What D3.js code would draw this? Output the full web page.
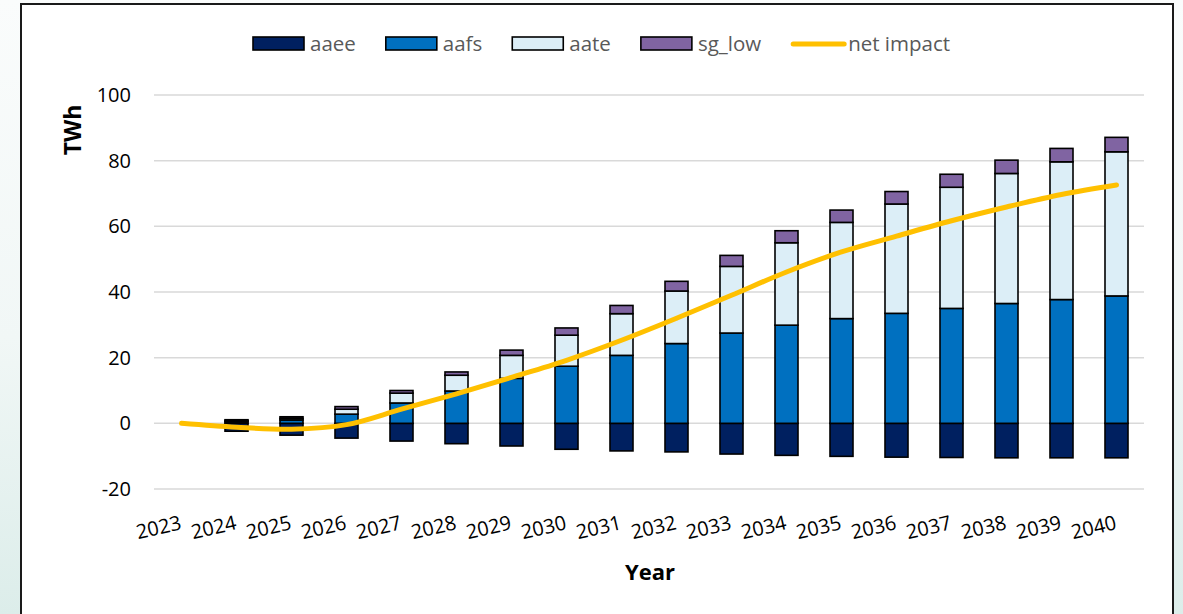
<!DOCTYPE html>
<html>
<head>
<meta charset="utf-8">
<script src="https://cdn.jsdelivr.net/npm/d3@7"></script>
<style>
  html, body { margin: 0; padding: 0; }
  body { width: 1183px; height: 614px; overflow: hidden;
         background: linear-gradient(to bottom, #fafcfc 0%, #f1f7f6 55%, #dcedea 100%); }
  svg { display: block; }
  text { font-family: "Open Sans", "Noto Sans", sans-serif; }
</style>
</head>
<body>
<svg id="chart" width="1183" height="614"></svg>
<script>
// ---- data ----
const years = ["2023","2024","2025","2026","2027","2028","2029","2030","2031","2032","2033","2034","2035","2036","2037","2038","2039","2040"];
const aaee  = [0, -2.4, -3.6, -4.5, -5.4, -6.2, -6.9, -7.9, -8.4, -8.7, -9.35, -9.75, -10.05, -10.3, -10.4, -10.5, -10.5, -10.5];
const aafs  = [0, 0.5, 1.0, 2.8, 6.2, 9.85, 13.7, 17.4, 20.7, 24.3, 27.5, 29.9, 31.9, 33.5, 35.0, 36.5, 37.7, 38.8];
const aate  = [0, 0.3, 0.5, 1.5, 3.0, 4.8, 7.0, 9.45, 12.7, 16.0, 20.3, 25.1, 29.3, 33.3, 36.9, 39.6, 41.95, 43.9];
const sgLow = [0, 0.3, 0.5, 0.8, 0.8, 1.0, 1.6, 2.2, 2.5, 2.95, 3.35, 3.66, 3.75, 3.8, 3.96, 4.06, 4.08, 4.4];
const netImpact = [0, -1.2, -1.8, -0.4, 4.3, 9.0, 14.0, 19.2, 25.3, 32.0, 39.0, 46.1, 52.2, 57.0, 61.7, 65.9, 69.7, 72.6];
const yTicks = [-20, 0, 20, 40, 60, 80, 100];
const seriesNames = ["aaee", "aafs", "aate", "sg_low"];
const seriesColors = {aaee: "#002060", aafs: "#0070C0", aate: "#DCEEF7", sg_low: "#8064A2"};
const lineName = "net impact";
const lineColor = "#FFC000";

// ---- layout ----
const svg = d3.select("#chart");
const plotLeft = 154, plotRight = 1144;

// frame
svg.append("rect").attr("x", 21).attr("y", 4).attr("width", 1152).attr("height", 640)
  .attr("fill", "#ffffff").attr("stroke", "#1a1a1a").attr("stroke-width", 2);

const x = d3.scaleBand().domain(years).range([plotLeft, plotRight])
  .paddingInner(32/55).paddingOuter(16/55);
const y = d3.scaleLinear().domain([-20, 100]).range([489, 95]);

// gridlines
svg.append("g").selectAll("line").data(yTicks).join("line")
  .attr("x1", plotLeft).attr("x2", plotRight)
  .attr("y1", d => y(d)).attr("y2", d => y(d))
  .attr("stroke", "#d9d9d9").attr("stroke-width", 1.5);

// y axis labels
const yAxis = d3.axisLeft(y).tickValues(yTicks).tickSize(0).tickPadding(0)
  .tickFormat(d => String(d));
const gy = svg.append("g").attr("transform", "translate(131,0)").call(yAxis);
gy.select(".domain").remove();
gy.selectAll("text").attr("font-size", 20).attr("fill", "#000")
  .attr("font-family", "'Open Sans', sans-serif");

// x axis labels
const xAxis = d3.axisBottom(x).tickSize(0).tickPadding(0);
const gx = svg.append("g").attr("transform", "translate(0,529)").call(xAxis);
gx.select(".domain").remove();
gx.selectAll("text")
  .attr("font-size", 20).attr("fill", "#000")
  .attr("font-family", "'Open Sans', sans-serif")
  .attr("text-anchor", "end")
  .attr("dy", 0)
  .attr("transform", "translate(1,0) rotate(-13)");

// stacked bars
const table = years.map((yr, i) => ({year: yr, aaee: aaee[i], aafs: aafs[i], aate: aate[i], sg_low: sgLow[i]}));
const stack = d3.stack().keys(seriesNames).offset(d3.stackOffsetDiverging);
const stacked = stack(table);
const gBars = svg.append("g");
stacked.forEach(s => {
  gBars.append("g").selectAll("rect").data(s).join("rect")
    .attr("x", d => x(d.data.year))
    .attr("width", x.bandwidth())
    .attr("y", d => y(Math.max(d[0], d[1])))
    .attr("height", d => Math.abs(y(d[0]) - y(d[1])))
    .attr("fill", seriesColors[s.key])
    .attr("stroke", "#000").attr("stroke-width", 1.6)
    .style("display", d => Math.abs(d[1] - d[0]) < 1e-9 ? "none" : null);
});

// net impact line
const line = d3.line()
  .x((d, i) => x(years[i]) + x.bandwidth() / 2)
  .y(d => y(d))
  .curve(d3.curveCatmullRom.alpha(0.5));
svg.append("path").datum(netImpact)
  .attr("d", line).attr("fill", "none")
  .attr("stroke", lineColor).attr("stroke-width", 5)
  .attr("stroke-linecap", "round").attr("stroke-linejoin", "round");

// axis titles
svg.append("text").attr("transform", "translate(81,130) rotate(-90)")
  .attr("text-anchor", "middle").attr("font-size", 23).attr("font-weight", "bold")
  .attr("fill", "#000").text("TWh");
svg.append("text").attr("x", 650).attr("y", 580)
  .attr("text-anchor", "middle").attr("font-size", 22).attr("font-weight", "bold")
  .attr("fill", "#000").text("Year");

// legend
const gLeg = svg.append("g");
let lx = 253;
const legItems = seriesNames.map(n => ({name: n, type: "rect"})).concat([{name: lineName, type: "line"}]);
legItems.forEach(it => {
  if (it.type === "rect") {
    gLeg.append("rect").attr("x", lx).attr("y", 37).attr("width", 51).attr("height", 13)
      .attr("fill", seriesColors[it.name]).attr("stroke", "#000").attr("stroke-width", 1.6);
  } else {
    gLeg.append("line").attr("x1", lx + 2).attr("x2", lx + 53).attr("y1", 44).attr("y2", 44)
      .attr("stroke", lineColor).attr("stroke-width", 5).attr("stroke-linecap", "round");
  }
  const t = gLeg.append("text").attr("x", lx + 57).attr("y", 51)
    .attr("font-size", 20.5).attr("fill", "#595959").text(it.name);
  lx = lx + 57 + t.node().getComputedTextLength() + 30;
});
</script>
</body>
</html>
